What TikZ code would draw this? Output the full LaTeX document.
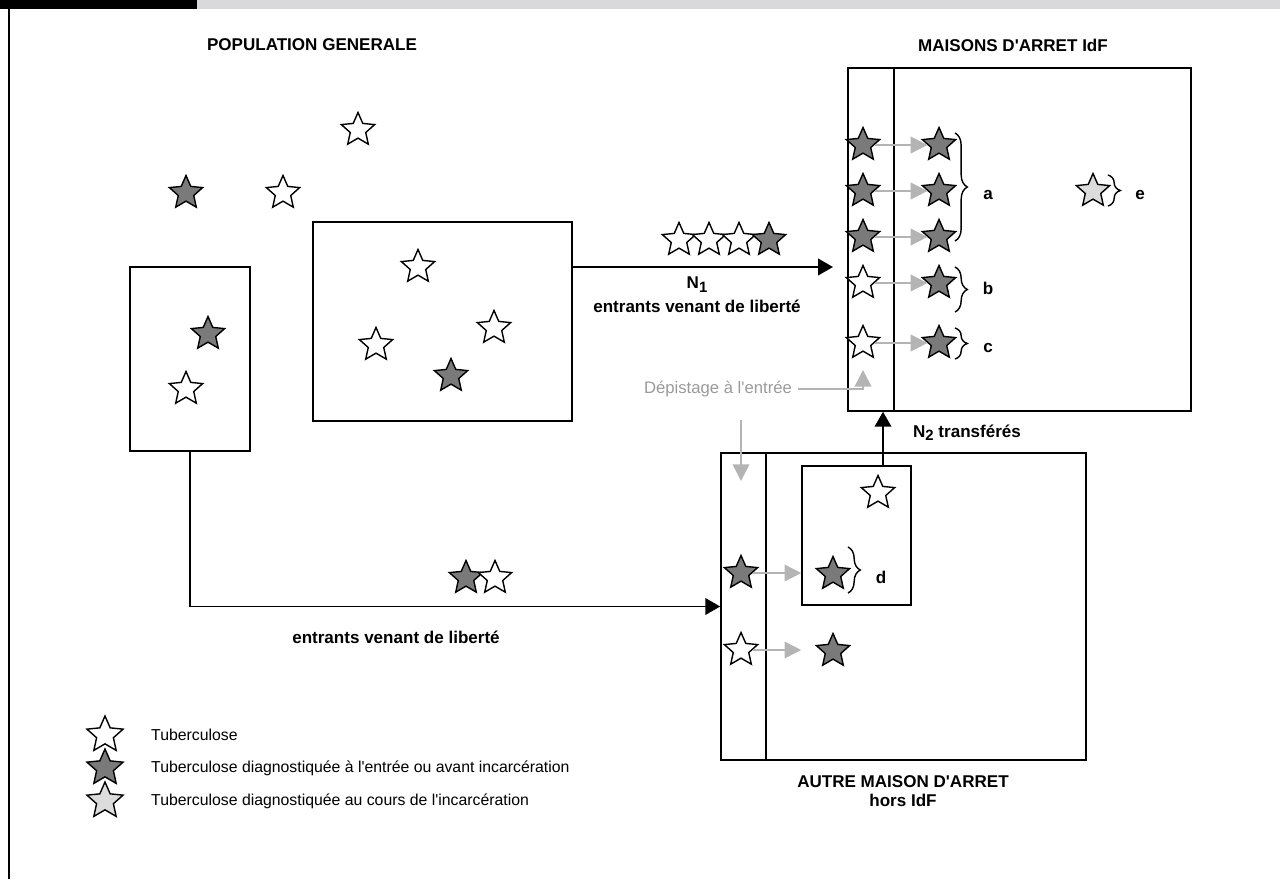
\documentclass[tikz,border=0pt]{standalone}
\usepackage{fontspec}
\setmainfont{Liberation Sans}
\usepackage{tikz}
\usetikzlibrary{arrows.meta, shapes, positioning, calc, fit, decorations.pathreplacing}
\usepackage{xcolor}
\definecolor{starDark}{HTML}{7A7A7A}
\definecolor{starLight}{HTML}{DCDCDC}
\definecolor{arrowGrey}{HTML}{B4B4B4}
\definecolor{barGrey}{HTML}{D9D9DB}
\definecolor{textGrey}{HTML}{9A9A9A}
\newcommand{\apo}{\textquotesingle}

\begin{document}
\begin{tikzpicture}[x=0.02cm, y=-0.02cm, font=\fontsize{9.5}{13.5}\selectfont,
  wstar/.style={star, star points=5, star point ratio=2.15, draw=black, line width=0.8pt,
    fill=white, inner sep=0pt, minimum size=0.7cm},
  dstar/.style={wstar, fill=starDark},
  lstar/.style={wstar, fill=starLight},
  boxl/.style={draw, line width=0.9pt, inner sep=0pt},
  lbl/.style={font=\fontsize{9.7}{13.5}\selectfont\bfseries, align=center},
  blackarr/.style={line width=0.9pt, -{Triangle[length=8.5pt, width=9.5pt]}},
  greyarr/.style={arrowGrey, line width=0.9pt, -{Triangle[length=9.5pt, width=9.5pt]}},
  bracel/.style={decorate, decoration={brace, amplitude=7pt}, line width=0.8pt}]
\useasboundingbox (0,0) rectangle (1280,879);

% frame
\fill[black] (0,0) rectangle (197,9);
\fill[barGrey] (197,0) rectangle (1280,9);
\draw[line width=1.1pt] (9,9) -- (9,879);

% titles
\node[lbl] (popTitle) at (312,45) {POPULATION GENERALE};
\node[lbl] (maTitle) at (1013,45) {MAISONS D\apo ARRET IdF};
\node[lbl] (amTitle) at (903,791) {AUTRE MAISON D\apo ARRET\\[-3pt]hors IdF};

% boxes
\node[boxl, fit={(130,267) (250,451)}] (leftbox) {};
\node[boxl, fit={(313,222) (572,421)}] (midbox) {};
\node[boxl, fit={(848,68) (1191,411)}] (ma) {};
\node[boxl, fit={(721,453) (1086,760)}] (am) {};
\node[boxl, fit={(802,466) (911,605)}] (inbox) {};
\draw[line width=0.9pt] (894,68) -- (894,411);
\draw[line width=0.9pt] (766,453) -- (766,760);

% general population
\foreach \x/\y/\s/\n in {358/130/wstar/p1, 186/193/dstar/p2, 283/193/wstar/p3,
  208/334/dstar/l1, 186/389/wstar/l2,
  418/267/wstar/m1, 494/328/wstar/m2, 376/345/wstar/m3, 451/376/dstar/m4,
  679/240/wstar/f1, 709/240/wstar/f2, 739/240/wstar/f3, 769/240/dstar/f4,
  466/578/dstar/g1, 495/578/wstar/g2}
{
  \node[\s] (\n) at (\x,\y) {};
}

% maisons d'arret IdF
\foreach \y/\s/\n in {145/dstar/a1, 191/dstar/a2, 237/dstar/a3, 283/wstar/b1, 343/wstar/c1}
{
  \node[\s] (in\n) at (863,\y) {};
  \node[dstar] (out\n) at (939,\y) {};
  \draw[greyarr] (in\n) -- (out\n);
}
\node[lstar] (ine) at (1093,191) {};

\draw[bracel] (955,133) -- (955,241);
\draw[bracel] (955,267) -- (955,312);
\draw[bracel] (955,328) -- (955,359);
\draw[bracel] (1108,175) -- (1108,206);
\node[lbl] (la) at (988,195) {a};
\node[lbl] (lb) at (988,288) {b};
\node[lbl] (lc) at (988,348) {c};
\node[lbl] (le) at (1140,195) {e};

% autre maison d'arret
\node[wstar] (am1) at (878,493) {};
\node[dstar] (amd) at (833,574) {};
\node[dstar] (amc1) at (741,573) {};
\node[wstar] (amc2) at (741,650) {};
\node[dstar] (amo2) at (833,651) {};
\draw[greyarr] (amc1) -- (amc1 -| inbox.west);
\draw[greyarr] (amc2) -- (amc2 -| inbox.west);
\draw[bracel] (848,547) -- (848,593);
\node[lbl] (ld) at (881,577) {d};

% flows
\coordinate (n1end) at (833,267);
\draw[blackarr] (midbox.east |- n1end) -- (n1end);
\node[lbl] (n1) at (697,295) {N\raisebox{-0.35ex}{\fontsize{8.5}{8.5}\selectfont\bfseries 1}\\entrants venant de libert\'e};
\draw[blackarr] (leftbox.south) |- (am.west);
\node[lbl] (lib) at (396,637) {entrants venant de libert\'e};
\coordinate (n2x) at (883,0);
\draw[blackarr] (inbox.north -| n2x) -- (ma.south -| n2x);
\node[lbl] (n2) at (967,433) {N\raisebox{-0.35ex}{\fontsize{8.5}{8.5}\selectfont\bfseries 2} transf\'er\'es};

% screening
\node[textGrey] (dep) at (718,389) {D\'epistage \`a l\apo entr\'ee};
\coordinate (depup) at (863,370);
\coordinate (deptop) at (741,420);
\coordinate (depdown) at (741,481);
\draw[greyarr] (dep.east) -| (depup);
\draw[greyarr] (deptop) -- (depdown);

% legend
\foreach \y/\s/\t [count=\i] in {735/wstar/Tuberculose,
  768/dstar/Tuberculose diagnostiqu\'ee \`a l\apo entr\'ee ou avant incarc\'eration,
  801/lstar/Tuberculose diagnostiqu\'ee au cours de l\apo incarc\'eration}
{
  \node[\s, minimum size=0.76cm] (key\i) at (105,\y) {};
  \node[anchor=west, font=\fontsize{9}{11}\selectfont] (keytext\i) at (145,\y) {\t};
}
\end{tikzpicture}
\end{document}
